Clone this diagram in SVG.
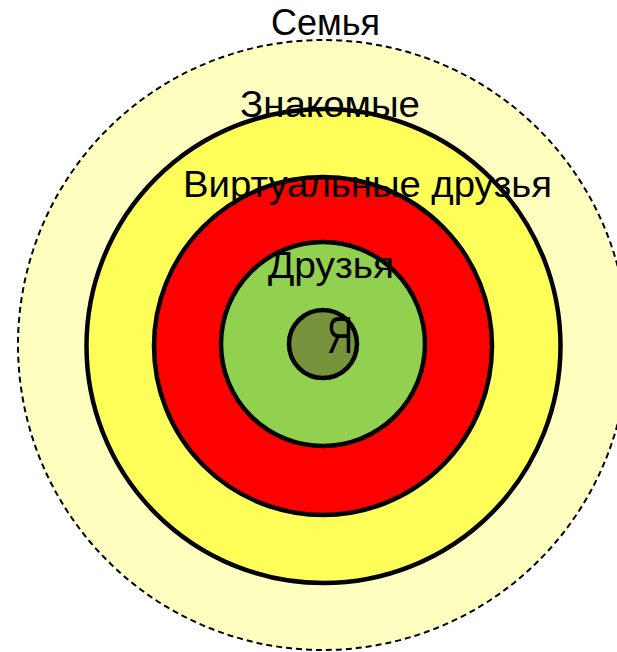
<svg xmlns="http://www.w3.org/2000/svg" width="617" height="652" viewBox="0 0 617 652">
<style>
.ring{stroke:#000;stroke-width:4.5}
.lbl{font-family:"Liberation Sans",Arial,sans-serif;font-size:36px;fill:#000}
</style>
<rect width="617" height="652" fill="#fff"/>
<g id="family"><circle cx="323" cy="345" r="305" fill="#ffffc0" stroke="#000" stroke-width="2" stroke-dasharray="6,4"/></g>
<g id="acquaintances"><circle cx="323.5" cy="346" r="237" fill="#ffff5a" class="ring"/></g>
<g id="virtual"><circle cx="323" cy="346" r="169" fill="#ff0000" class="ring"/></g>
<g id="friends"><circle cx="323" cy="344" r="102" fill="#92d050" class="ring"/></g>
<g id="me"><circle cx="323" cy="344" r="34" fill="#77933c" class="ring"/></g>
<g id="labels">
<text class="lbl" x="271" y="35" textLength="109" lengthAdjust="spacingAndGlyphs">Семья</text>
<text class="lbl" x="240" y="117" textLength="180" lengthAdjust="spacingAndGlyphs">Знакомые</text>
<text class="lbl" x="183" y="197" textLength="369" lengthAdjust="spacingAndGlyphs">Виртуальные друзья</text>
<text class="lbl" x="268" y="278" textLength="126" lengthAdjust="spacingAndGlyphs">Друзья</text>
<text class="lbl" x="327" y="353" style="font-size:52px" textLength="26" lengthAdjust="spacingAndGlyphs">Я</text>
</g>
</svg>
